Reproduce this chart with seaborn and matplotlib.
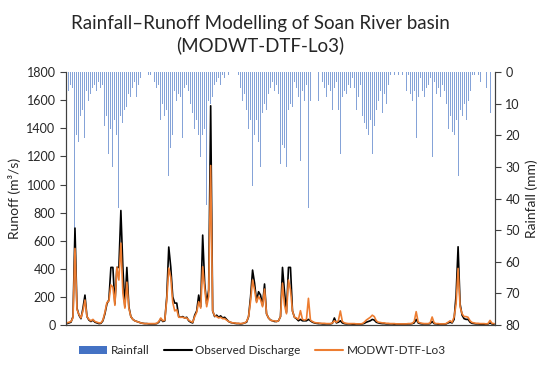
import numpy as np
import pandas as pd
import seaborn as sns
import matplotlib
matplotlib.use('Agg')
import matplotlib.pyplot as plt
from matplotlib.patches import Patch
from matplotlib.lines import Line2D

# values, one sample every ~2 px along the time axis
observed = [
    10, 15, 20, 60, 690, 120, 70, 45, 120, 213, 60, 35, 25, 35, 20, 15, 10, 12, 30, 80,
    150, 180, 410, 410, 150, 410, 410, 815, 410, 130, 410, 130, 60, 40, 30, 25, 20, 15, 12, 10,
    10, 8, 8, 8, 8, 10, 20, 45, 25, 30, 200, 555, 413, 200, 156, 156, 60, 55, 60, 50,
    55, 30, 20, 15, 70, 100, 213, 130, 640, 298, 150, 250, 1560, 100, 60, 70, 55, 65, 50, 55,
    40, 25, 18, 15, 12, 10, 10, 8, 10, 15, 20, 60, 200, 391, 298, 170, 237, 213, 140, 292,
    80, 50, 35, 30, 25, 25, 30, 60, 410, 237, 90, 410, 410, 100, 55, 45, 30, 40, 30, 30,
    30, 40, 30, 20, 15, 12, 10, 10, 8, 8, 8, 8, 8, 12, 50, 15, 20, 30, 15, 10,
    8, 8, 8, 6, 6, 6, 6, 6, 8, 12, 20, 25, 30, 40, 35, 20, 15, 12, 10, 10,
    8, 8, 8, 8, 6, 6, 6, 6, 6, 6, 6, 8, 8, 10, 15, 40, 15, 10, 8, 8,
    8, 8, 10, 25, 10, 8, 6, 6, 6, 6, 8, 15, 20, 15, 40, 213, 557, 150, 70, 45,
    40, 40, 20, 12, 10, 8, 8, 6, 6, 6, 6, 8, 15, 8, 6,
]
simulated = [
    15, 20, 25, 50, 545, 110, 75, 50, 100, 178, 60, 40, 30, 40, 25, 20, 15, 15, 35, 90,
    160, 170, 285, 270, 140, 410, 320, 583, 227, 120, 305, 120, 60, 40, 30, 25, 20, 15, 12, 10,
    10, 10, 10, 10, 10, 12, 25, 50, 30, 35, 180, 405, 340, 160, 100, 110, 55, 55, 55, 50,
    50, 35, 25, 20, 60, 90, 166, 120, 415, 263, 130, 203, 1135, 100, 65, 60, 50, 55, 45, 45,
    35, 25, 20, 15, 15, 12, 12, 10, 12, 15, 25, 60, 170, 320, 250, 160, 203, 180, 130, 256,
    80, 50, 35, 30, 30, 25, 30, 60, 298, 142, 80, 320, 250, 100, 55, 50, 40, 102, 40, 35,
    40, 190, 35, 25, 18, 15, 15, 12, 12, 12, 10, 10, 10, 15, 30, 20, 30, 100, 25, 15,
    12, 10, 10, 10, 10, 8, 8, 8, 10, 20, 35, 45, 55, 70, 60, 30, 20, 18, 15, 15,
    12, 12, 10, 10, 10, 8, 8, 8, 8, 8, 8, 10, 10, 12, 25, 95, 20, 15, 12, 10,
    10, 10, 15, 57, 15, 10, 10, 8, 8, 8, 10, 20, 30, 20, 57, 150, 403, 130, 80, 60,
    60, 55, 30, 18, 15, 12, 12, 10, 10, 10, 8, 10, 33, 12, 10,
]
rainfall = [
    2, 6, 4, 5, 50, 20, 22, 14, 12, 21, 6, 9, 7, 5, 4, 6, 3, 5, 4, 17,
    14, 26, 18, 30, 15, 20, 43, 14, 16, 12, 11, 7, 8, 5, 3, 8, 4, 2, 0, 0,
    0, 1, 1, 0, 3, 5, 4, 15, 10, 14, 12, 33, 24, 20, 6, 9, 7, 8, 21, 5,
    4, 6, 10, 13, 18, 15, 20, 27, 20, 18, 42, 9, 10, 8, 4, 3, 2, 4, 1, 2,
    0, 1, 0, 0, 0, 0, 1, 5, 9, 7, 12, 18, 15, 36, 20, 15, 22, 30, 13, 10,
    12, 7, 5, 3, 6, 4, 7, 29, 23, 24, 30, 12, 10, 11, 3, 5, 8, 28, 6, 9,
    4, 43, 9, 0, 0, 0, 9, 0, 3, 5, 8, 4, 6, 12, 5, 3, 12, 26, 8, 6,
    7, 4, 5, 2, 5, 12, 8, 4, 14, 16, 18, 20, 15, 26, 17, 12, 9, 6, 13, 7,
    10, 4, 1, 0, 1, 0, 1, 0, 1, 0, 6, 1, 7, 9, 6, 21, 8, 2, 6, 8,
    5, 4, 2, 27, 3, 7, 5, 8, 4, 6, 10, 18, 14, 19, 20, 15, 33, 12, 14, 10,
    15, 9, 6, 1, 1, 0, 1, 3, 0, 0, 5, 0, 13, 0, 0,
]

day = np.arange(len(observed))
df = pd.DataFrame({'day': day, 'observed': observed, 'simulated': simulated,
                   'rainfall': rainfall})

BLUE = '#4472C4'
ORANGE = '#ED7D31'

sns.set_style('white')
plt.rcParams['font.family'] = ['Lato', 'DejaVu Sans']

fig = plt.figure(figsize=(5.5, 3.66), dpi=100)
ax = fig.add_axes([0.12, 0.112, 0.78, 0.691])
ax2 = ax.twinx()

# rainfall hangs from the top on the inverted right axis
ax2.bar(df['day'], df['rainfall'], width=0.5, color=BLUE, alpha=0.65, linewidth=0)
ax2.set_ylim(80, 0)
ax2.set_yticks(range(0, 81, 10))

sns.lineplot(data=df, x='day', y='observed', ax=ax, color='black', linewidth=1.2)
sns.lineplot(data=df, x='day', y='simulated', ax=ax, color=ORANGE, linewidth=1.2)
ax.set_ylim(0, 1800)
ax.set_yticks(range(0, 1801, 200))
ax.set_xlim(-0.5, len(observed) - 0.5)
ax.set_xticks([])
ax.set_xlabel('')
ax.set_zorder(ax2.get_zorder() + 1)
ax.patch.set_visible(False)

ax.set_ylabel('Runoff (m³/s)', fontsize=10)
ax2.set_ylabel('Rainfall (mm)', fontsize=10)
for a in (ax, ax2):
    a.tick_params(axis='y', labelsize=9, length=4, width=0.8, direction='out',
                  color='#404040')
    a.tick_params(axis='x', length=0)
    a.spines['top'].set_visible(False)
    for side in ('left', 'right', 'bottom'):
        a.spines[side].set_color('#404040')
        a.spines[side].set_linewidth(0.8)
ax.yaxis.set_ticks_position('left')
ax2.yaxis.set_ticks_position('right')

fig.text(0.473, 0.905, 'Rainfall\u2013Runoff Modelling of Soan River basin\n(MODWT-DTF-Lo3)',
         ha='center', va='center', fontsize=13.5, linespacing=1.3)

handles = [Patch(facecolor=BLUE, edgecolor='none'),
           Line2D([], [], color='black', linewidth=1.5),
           Line2D([], [], color=ORANGE, linewidth=1.5)]
labels = ['Rainfall', 'Observed Discharge', 'MODWT-DTF-Lo3']
fig.legend(handles, labels, loc='center', bbox_to_anchor=(0.477, 0.042), ncol=3,
           frameon=False, fontsize=8.5, handlelength=2.4, handleheight=0.55,
           columnspacing=1.2, handletextpad=0.3)

fig.savefig('out.png', dpi=100)
